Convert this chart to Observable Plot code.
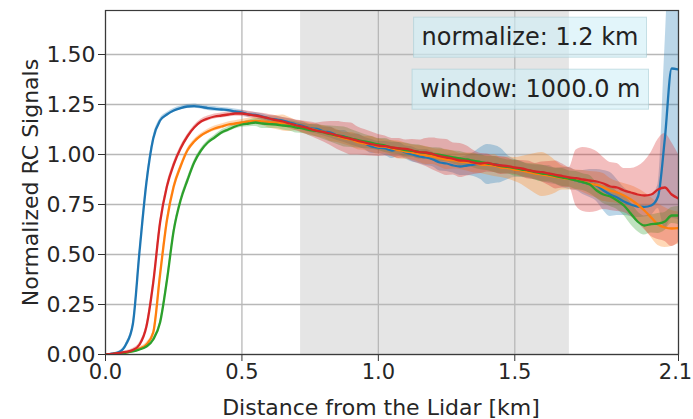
<!DOCTYPE html>
<html>
<head>
<meta charset="utf-8">
<script src="https://cdn.jsdelivr.net/npm/d3@7"></script>
<script src="https://cdn.jsdelivr.net/npm/@observablehq/plot@0.6"></script>
<style>
  html, body { margin: 0; padding: 0; background: #fff; }
  #chart svg { display: block; overflow: visible; }
</style>
</head>
<body>
<div id="chart"></div>
<script>
// Range from the lidar (km), sampled every 25 m
const distance = [
  0.000,0.025,0.050,0.075,0.100,0.125,0.150,0.175,0.200,0.225,
  0.250,0.275,0.300,0.325,0.350,0.375,0.400,0.425,0.450,0.475,
  0.500,0.525,0.550,0.575,0.600,0.625,0.650,0.675,0.700,0.725,
  0.750,0.775,0.800,0.825,0.850,0.875,0.900,0.925,0.950,0.975,
  1.000,1.025,1.050,1.075,1.100,1.125,1.150,1.175,1.200,1.225,
  1.250,1.275,1.300,1.325,1.350,1.375,1.400,1.425,1.450,1.475,
  1.500,1.525,1.550,1.575,1.600,1.625,1.650,1.675,1.700,1.725,
  1.750,1.775,1.800,1.825,1.850,1.875,1.900,1.925,1.950,1.975,
  2.000,2.025,2.050,2.075,2.100
];

// Mean normalized range-corrected signal of each channel
const blueMean = [
  0.000,0.004,0.012,0.050,0.150,0.520,0.860,1.080,1.170,1.200,
  1.220,1.232,1.240,1.242,1.238,1.232,1.228,1.225,1.222,1.215,
  1.210,1.200,1.198,1.190,1.180,1.175,1.170,1.160,1.150,1.142,
  1.130,1.128,1.115,1.110,1.095,1.090,1.075,1.070,1.055,1.040,
  1.035,1.030,1.020,1.025,1.010,1.000,0.990,0.985,0.975,0.960,
  0.955,0.945,0.940,0.945,0.950,0.955,0.950,0.950,0.945,0.935,
  0.930,0.925,0.915,0.910,0.905,0.900,0.890,0.885,0.880,0.870,
  0.860,0.855,0.845,0.820,0.800,0.785,0.765,0.750,0.740,0.738,
  0.745,0.790,1.080,1.430,1.425
];
const orangeMean = [
  0.000,0.002,0.006,0.010,0.018,0.030,0.050,0.110,0.400,0.670,
  0.840,0.940,1.020,1.065,1.095,1.115,1.130,1.140,1.150,1.155,
  1.160,1.165,1.168,1.165,1.162,1.160,1.158,1.150,1.145,1.135,
  1.128,1.120,1.112,1.100,1.092,1.080,1.075,1.062,1.055,1.050,
  1.040,1.038,1.030,1.022,1.015,1.010,1.002,0.995,0.990,0.982,
  0.975,0.972,0.965,0.962,0.958,0.950,0.948,0.945,0.935,0.932,
  0.925,0.920,0.912,0.905,0.900,0.895,0.888,0.882,0.878,0.872,
  0.865,0.855,0.848,0.835,0.820,0.810,0.795,0.775,0.750,0.720,
  0.685,0.650,0.635,0.630,0.632
];
const greenMean = [
  0.000,0.002,0.005,0.010,0.015,0.025,0.040,0.075,0.160,0.370,
  0.620,0.770,0.870,0.960,1.020,1.060,1.085,1.110,1.125,1.140,
  1.150,1.155,1.160,1.155,1.152,1.150,1.145,1.142,1.135,1.130,
  1.122,1.118,1.110,1.102,1.095,1.088,1.080,1.072,1.065,1.058,
  1.050,1.045,1.035,1.030,1.022,1.018,1.012,1.008,1.002,0.998,
  0.992,0.985,0.980,0.975,0.968,0.962,0.955,0.950,0.942,0.938,
  0.932,0.925,0.920,0.912,0.905,0.900,0.892,0.885,0.878,0.870,
  0.862,0.850,0.820,0.800,0.790,0.770,0.745,0.705,0.665,0.645,
  0.652,0.655,0.665,0.695,0.695
];
const redMean = [
  0.000,0.003,0.008,0.013,0.022,0.050,0.140,0.360,0.660,0.840,
  0.950,1.030,1.090,1.135,1.165,1.180,1.190,1.195,1.200,1.205,
  1.205,1.200,1.195,1.188,1.180,1.172,1.165,1.155,1.145,1.138,
  1.128,1.118,1.112,1.105,1.095,1.085,1.078,1.068,1.060,1.052,
  1.045,1.042,1.035,1.030,1.028,1.020,1.012,1.010,1.002,0.992,
  0.985,0.978,0.970,0.968,0.960,0.955,0.958,0.950,0.945,0.942,
  0.935,0.930,0.922,0.915,0.912,0.905,0.898,0.892,0.885,0.882,
  0.875,0.870,0.865,0.855,0.840,0.835,0.820,0.810,0.800,0.795,
  0.800,0.825,0.835,0.800,0.780
];

// Standard deviation of each channel (half-width of the shaded band)
const blueSpread = [
  0.002,0.003,0.005,0.008,0.012,0.015,0.015,0.012,0.010,0.010,
  0.010,0.010,0.010,0.011,0.010,0.012,0.012,0.010,0.011,0.012,
  0.012,0.013,0.012,0.014,0.015,0.016,0.015,0.018,0.020,0.022,
  0.020,0.025,0.022,0.028,0.025,0.030,0.028,0.032,0.030,0.035,
  0.030,0.035,0.040,0.035,0.032,0.038,0.035,0.040,0.036,0.042,
  0.040,0.038,0.045,0.050,0.060,0.080,0.100,0.095,0.085,0.060,
  0.045,0.040,0.035,0.038,0.040,0.045,0.040,0.050,0.055,0.050,
  0.060,0.070,0.080,0.100,0.110,0.090,0.070,0.060,0.055,0.050,
  0.050,0.060,0.450,0.750,0.750
];
const orangeSpread = [
  0.002,0.002,0.003,0.004,0.006,0.008,0.010,0.012,0.014,0.014,
  0.012,0.011,0.010,0.010,0.010,0.011,0.012,0.012,0.013,0.014,
  0.015,0.016,0.018,0.020,0.030,0.035,0.040,0.035,0.025,0.030,
  0.028,0.032,0.030,0.035,0.032,0.030,0.035,0.038,0.035,0.040,
  0.038,0.035,0.040,0.045,0.040,0.038,0.042,0.045,0.040,0.045,
  0.050,0.045,0.040,0.045,0.050,0.045,0.050,0.055,0.050,0.055,
  0.060,0.070,0.085,0.100,0.110,0.100,0.080,0.060,0.055,0.050,
  0.055,0.060,0.065,0.070,0.060,0.055,0.060,0.070,0.080,0.090,
  0.100,0.105,0.100,0.090,0.080
];
const greenSpread = [
  0.002,0.002,0.003,0.004,0.005,0.006,0.008,0.010,0.012,0.014,
  0.014,0.013,0.012,0.011,0.010,0.010,0.011,0.012,0.012,0.013,
  0.014,0.016,0.020,0.025,0.022,0.020,0.022,0.025,0.028,0.025,
  0.028,0.030,0.035,0.040,0.045,0.050,0.045,0.040,0.035,0.032,
  0.030,0.035,0.032,0.030,0.035,0.032,0.035,0.030,0.032,0.035,
  0.030,0.032,0.035,0.030,0.035,0.038,0.035,0.040,0.038,0.035,
  0.040,0.038,0.035,0.040,0.042,0.038,0.040,0.045,0.040,0.045,
  0.042,0.045,0.040,0.045,0.050,0.045,0.050,0.055,0.050,0.048,
  0.045,0.050,0.045,0.040,0.045
];
const redSpread = [
  0.002,0.003,0.004,0.006,0.008,0.010,0.012,0.014,0.014,0.013,
  0.012,0.011,0.010,0.010,0.011,0.012,0.012,0.013,0.012,0.014,
  0.015,0.016,0.015,0.018,0.020,0.022,0.020,0.025,0.028,0.030,
  0.035,0.040,0.050,0.060,0.070,0.075,0.080,0.070,0.065,0.060,
  0.055,0.050,0.045,0.050,0.045,0.055,0.060,0.070,0.080,0.085,
  0.090,0.080,0.085,0.075,0.060,0.050,0.045,0.040,0.045,0.040,
  0.035,0.040,0.045,0.040,0.050,0.060,0.070,0.060,0.050,0.140,
  0.160,0.160,0.150,0.130,0.120,0.120,0.110,0.120,0.140,0.170,
  0.210,0.250,0.270,0.260,0.220
];

const seriesNames = ["blue", "orange", "green", "red"];
const seriesColors = ["#1f77b4", "#ff7f0e", "#2ca02c", "#d62728"];
const means = [blueMean, orangeMean, greenMean, redMean];
const spreads = [blueSpread, orangeSpread, greenSpread, redSpread];

// Range interval highlighted in grey (km)
const shadedStart = [0.715];
const shadedEnd = [1.70];

const xTicks = [0, 0.5, 1.0, 1.5, 2.1];
const yTicks = [0, 0.25, 0.5, 0.75, 1.0, 1.25, 1.5];
const xDomain = [0, 2.1];
const yDomain = [0, 1.72];

const annotations = ["normalize: 1.2 km", "window: 1000.0 m"];
const xLabel = "Distance from the Lidar [km]";
const yLabel = "Normalized RC Signals";

// Long table: one row per (channel, distance)
const rows = seriesNames.flatMap((name, s) =>
  distance.map((d, i) => ({
    name, d,
    v: means[s][i],
    lo: means[s][i] - spreads[s][i],
    hi: means[s][i] + spreads[s][i]
  }))
);
const shaded = shadedStart.map((a, i) => ({start: a, end: shadedEnd[i]}));

const font = "DejaVu Sans";
const ink = "#262626";
const fmtX = d => d.toFixed(1);

const bandMarks = seriesNames.map((name, s) =>
  Plot.areaY(rows.filter(r => r.name === name), {
    x: "d", y1: "lo", y2: "hi", curve: "monotone-x",
    fill: seriesColors[s], fillOpacity: 0.3, clip: true
  })
);
const lineMarks = seriesNames.map((name, s) =>
  Plot.lineY(rows.filter(r => r.name === name), {
    x: "d", y: "v", curve: "monotone-x",
    stroke: seriesColors[s], strokeWidth: 2.3,
    strokeLinejoin: "round", clip: true
  })
);

const chart = Plot.plot({
  width: 693,
  height: 419,
  marginLeft: 105,
  marginRight: 15,
  marginTop: 10,
  marginBottom: 65,
  style: {fontFamily: font, background: "#fff", color: ink},
  x: {domain: xDomain},
  y: {domain: yDomain},
  marks: [
    Plot.rect(shaded, {x1: "start", x2: "end", fill: "#e5e5e5"}),
    Plot.gridX(xTicks, {stroke: "#b8b8b8", strokeOpacity: 1, strokeWidth: 1.3}),
    Plot.gridY(yTicks, {stroke: "#b8b8b8", strokeOpacity: 1, strokeWidth: 1.3}),
    ...bandMarks,
    ...lineMarks,
    // x ticks: interior labels centred, the last one nudged inside the page
    Plot.axisX(xTicks.slice(0, -1), {
      tickFormat: fmtX, tickSize: 7, tickPadding: 3,
      fontSize: 21, label: null, stroke: "#333", fill: ink
    }),
    Plot.axisX(xTicks.slice(-1), {
      tickFormat: () => "", tickSize: 7, label: null, stroke: "#333"
    }),
    Plot.text(xTicks.slice(-1), {
      x: d => d, text: fmtX, frameAnchor: "bottom", lineAnchor: "top",
      dx: -3, dy: 10, fontSize: 21, fill: ink
    }),
    Plot.axisY(yTicks, {
      tickFormat: d => d.toFixed(2), tickSize: 7, tickPadding: 3,
      fontSize: 22, label: null, stroke: "#333", fill: ink
    }),
    Plot.frame({stroke: "#3a3a3a", strokeWidth: 1.2}),
    Plot.text([xLabel], {
      text: d => d, frameAnchor: "bottom", lineAnchor: "middle",
      textAnchor: "middle", dx: -11, dy: 53, fontSize: 22, fill: ink
    }),
    Plot.text([yLabel], {
      text: d => d, frameAnchor: "left", lineAnchor: "middle",
      textAnchor: "middle", rotate: -90, dx: -75, fontSize: 22, fill: ink
    }),
    Plot.text([annotations[0]], {
      text: d => d, frameAnchor: "top-right", textAnchor: "end",
      lineAnchor: "middle", dx: -40, dy: 27, fontSize: 24, fill: "#222"
    }),
    Plot.text([annotations[1]], {
      text: d => d, frameAnchor: "top-right", textAnchor: "end",
      lineAnchor: "middle", dx: -38, dy: 79, fontSize: 24, fill: "#222"
    })
  ]
});

document.getElementById("chart").appendChild(chart);

// Translucent label boxes behind the annotation texts
d3.select(chart).selectAll("text")
  .filter(function () { return annotations.includes(this.textContent); })
  .each(function () {
    const bb = this.getBBox();
    const padX = 8, padY = 6;
    const rect = document.createElementNS("http://www.w3.org/2000/svg", "rect");
    rect.setAttribute("x", bb.x - padX);
    rect.setAttribute("y", bb.y - padY);
    rect.setAttribute("width", bb.width + 2 * padX);
    rect.setAttribute("height", bb.height + 2 * padY);
    rect.setAttribute("fill", "#cfeff6");
    rect.setAttribute("fill-opacity", 0.6);
    rect.setAttribute("stroke", "#a9cdd6");
    rect.setAttribute("stroke-opacity", 0.6);
    const t = this.getAttribute("transform");
    if (t) rect.setAttribute("transform", t);
    this.parentNode.insertBefore(rect, this);
  });
</script>
</body>
</html>
